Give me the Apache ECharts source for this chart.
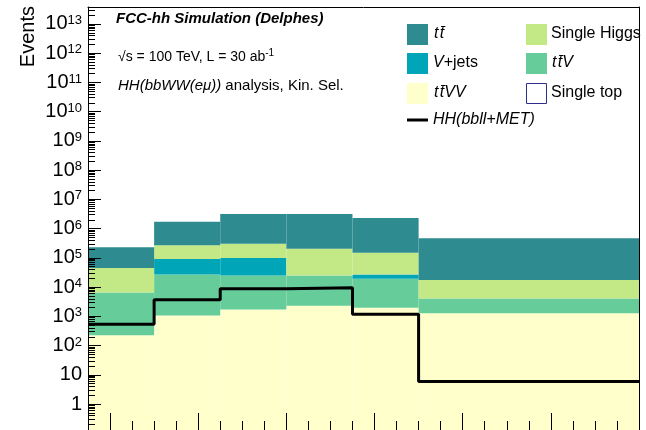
<!DOCTYPE html>
<html>
<head>
<meta charset="utf-8">
<script src="https://cdn.jsdelivr.net/npm/echarts@6/dist/echarts.min.js"></script>
<style>
html,body{margin:0;padding:0;background:#fff;}
#chart{width:646px;height:430px;}
</style>
</head>
<body>
<div id="chart"></div>
<script>
// ---- data ----
const binEdges = [30, 60, 90, 120, 150, 180, 280];
const ttbar       = [188300, 1465500, 2868000, 2966000, 2168000, 454500];
const singleHiggs = [38490, 177500, 203600, 178900, 122000, 13500];
const vJets       = [0, 63770, 73200, 0, 7790, 0];
const ttV         = [6260, 26160, 23470, 22900, 17490, 2773];
const ttVV        = [228, 1069, 1713, 2287, 1955, 1282];
const singleTop   = [0, 0, 0, 0, 0, 0];
const hhSignal    = [541, 3690, 8880, 9600, 1185, 5.97];
const xMajorTicks = [40, 80, 120, 160, 200, 240];
const yDecades    = [1, 10, 1e2, 1e3, 1e4, 1e5, 1e6, 1e7, 1e8, 1e9, 1e10, 1e11, 1e12, 1e13];

// ---- styling ----
const FONT = 'Liberation Sans, Arial, Helvetica, sans-serif';
const Y_MIN = 0.13, Y_MAX = 3.8e13, FLOOR = 1e-3;
const colors = {
  ttVV: '#FFFFCC', ttV: '#66CC99', vJets: '#00A6B8', singleHiggs: '#C2E985', ttbar: '#2E8B8F'
};

// stack order bottom -> top
const stackOrder = [
  ['ttVV', ttVV], ['singleTop', singleTop], ['ttV', ttV], ['vJets', vJets], ['singleHiggs', singleHiggs], ['ttbar', ttbar]
];
const cum = binEdges.slice(0, -1).map(() => 0);
const stackSeries = [];
stackOrder.forEach(([name, vals]) => {
  const data = vals.map((v, i) => {
    const lo = cum[i];
    cum[i] += v;
    return [binEdges[i], binEdges[i + 1], lo > 0 ? lo : FLOOR, cum[i], v];
  });
  if (name === 'singleTop') return;
  const col = colors[name];
  stackSeries.push({
    type: 'custom', name: name, clip: true, z: 2,
    xAxisIndex: 0, yAxisIndex: 0,
    encode: { x: [0, 1], y: [2, 3] },
    renderItem: function (params, api) {
      if (api.value(4) <= 0) return null;
      const p0 = api.coord([api.value(0), api.value(3)]);
      const p1 = api.coord([api.value(1), api.value(2)]);
      return { type: 'rect', shape: { x: p0[0], y: p0[1], width: p1[0] - p0[0], height: p1[1] - p0[1] },
        style: { fill: col } };
    },
    data: data
  });
});

const hhData = hhSignal.map((v, i) => [binEdges[i], v]);
hhData.push([binEdges[binEdges.length - 1], hhSignal[hhSignal.length - 1]]);

const yMinor = [];
for (let e = -1; e <= 13; e++) for (let k = 2; k <= 9; k++) {
  const v = k * Math.pow(10, e);
  if (v > Y_MIN && v < Y_MAX) yMinor.push(v);
}
const xMinor = [];
for (let v = 40; v < 280; v += 10) if (xMajorTicks.indexOf(v) < 0) xMinor.push(v);

const chart = echarts.init(document.getElementById('chart'), null, { renderer: 'canvas' });
const tt = 't\u200At\u0304';
const option = {
  animation: false,
  backgroundColor: '#fff',
  grid: { left: 88, right: 7, top: 7, bottom: -2, show: false },
  xAxis: [
    { type: 'value', min: 30, max: 280, position: 'bottom', z: 10,
      axisLine: { show: true, lineStyle: { color: '#000', width: 1 } },
      axisTick: { show: true, inside: true, length: 17, customValues: xMajorTicks, lineStyle: { color: '#000' } },
      axisLabel: { show: false }, splitLine: { show: false } },
    { type: 'value', min: 30, max: 280, position: 'bottom', z: 10,
      axisLine: { show: false },
      axisTick: { show: true, inside: true, length: 9, customValues: xMinor, lineStyle: { color: '#000' } },
      axisLabel: { show: false }, splitLine: { show: false } },
    { type: 'value', min: 30, max: 280, position: 'top', z: 10,
      axisLine: { show: true, lineStyle: { color: '#000', width: 1 } },
      axisTick: { show: false }, axisLabel: { show: false }, splitLine: { show: false } }
  ],
  yAxis: [
    { type: 'log', logBase: 10, min: Y_MIN, max: Y_MAX, position: 'left', z: 10,
      axisLine: { show: true, lineStyle: { color: '#000', width: 1 } },
      axisTick: { show: true, inside: true, length: 13, customValues: yDecades, lineStyle: { color: '#000' } },
      splitLine: { show: false },
      axisLabel: {
        show: true, margin: 6, customValues: yDecades,
        formatter: function (v) {
          const e = Math.round(Math.log10(v));
          if (e === 0) return '{b|1}';
          if (e === 1) return '{b|10}';
          return '{b|10}{s|' + e + '}';
        },
        rich: {
          b: { fontFamily: FONT, fontSize: 20, color: '#000', lineHeight: 20, verticalAlign: 'bottom' },
          s: { fontFamily: FONT, fontSize: 13, color: '#000', lineHeight: 20, verticalAlign: 'top', padding: [0, 0, 10, 0] }
        }
      } },
    { type: 'log', logBase: 10, min: Y_MIN, max: Y_MAX, position: 'left', z: 10,
      axisLine: { show: false },
      axisTick: { show: true, inside: true, length: 7, customValues: yMinor, lineStyle: { color: '#000' } },
      axisLabel: { show: false }, splitLine: { show: false } },
    { type: 'log', logBase: 10, min: Y_MIN, max: Y_MAX, position: 'right', z: 10,
      axisLine: { show: true, lineStyle: { color: '#000', width: 1 } },
      axisTick: { show: false }, axisLabel: { show: false }, splitLine: { show: false } }
  ],
  series: stackSeries.concat([{
    type: 'line', name: 'HH(bbll+MET)', step: 'end', symbol: 'none', z: 5,
    xAxisIndex: 0, yAxisIndex: 0,
    lineStyle: { color: '#000', width: 3 },
    data: hhData
  }]),
  graphic: [
    { type: 'text', x: 28, y: 6, rotation: Math.PI / 2, z: 20,
      style: { text: 'Events', font: '20px ' + FONT, fill: '#000', align: 'right', verticalAlign: 'middle' } },
    { type: 'text', x: 116, y: 19, z: 20,
      style: { text: 'FCC-hh Simulation (Delphes)', font: 'italic bold 15px ' + FONT, fill: '#000', verticalAlign: 'middle' } },
    { type: 'text', x: 118, y: 57, z: 20,
      style: { text: '\u221As = 100 TeV, L = 30 ab{s|-1}', font: '14px ' + FONT, fill: '#000', verticalAlign: 'middle',
        rich: { s: { fontSize: 10, fontFamily: FONT, padding: [0, 0, 8, 0] } } } },
    { type: 'text', x: 118, y: 86, z: 20,
      style: { text: '{i|HH(bbWW(e\u03BC))}{r| analysis, Kin. Sel.}', fill: '#000', verticalAlign: 'middle',
        rich: { i: { fontFamily: FONT, fontSize: 15, fontStyle: 'italic' }, r: { fontFamily: FONT, fontSize: 15 } } } },
    // legend column 1
    { type: 'rect', shape: { x: 407, y: 24, width: 21, height: 21 }, style: { fill: colors.ttbar }, z: 20 },
    { type: 'text', x: 434, y: 34, z: 20, style: { text: tt, font: 'italic 16px ' + FONT, fill: '#000', verticalAlign: 'middle' } },
    { type: 'rect', shape: { x: 407, y: 53, width: 21, height: 21 }, style: { fill: colors.vJets }, z: 20 },
    { type: 'text', x: 433, y: 63, z: 20, style: { text: '{i|V}{r|+jets}', fill: '#000', verticalAlign: 'middle',
      rich: { i: { fontFamily: FONT, fontSize: 16, fontStyle: 'italic' }, r: { fontFamily: FONT, fontSize: 16 } } } },
    { type: 'rect', shape: { x: 407, y: 83, width: 21, height: 21 }, style: { fill: colors.ttVV }, z: 20 },
    { type: 'text', x: 434, y: 93, z: 20, style: { text: tt + 'VV', font: 'italic 16px ' + FONT, fill: '#000', verticalAlign: 'middle' } },
    { type: 'line', shape: { x1: 407, y1: 120, x2: 428, y2: 120 }, style: { stroke: '#000', lineWidth: 3 }, z: 20 },
    { type: 'text', x: 433, y: 120, z: 20, style: { text: 'HH(bbll+MET)', font: 'italic 16px ' + FONT, fill: '#000', verticalAlign: 'middle' } },
    // legend column 2
    { type: 'rect', shape: { x: 526, y: 24, width: 21, height: 21 }, style: { fill: colors.singleHiggs }, z: 20 },
    { type: 'text', x: 551, y: 34, z: 20, style: { text: 'Single Higgs', font: '16px ' + FONT, fill: '#000', verticalAlign: 'middle' } },
    { type: 'rect', shape: { x: 526, y: 53, width: 21, height: 21 }, style: { fill: colors.ttV }, z: 20 },
    { type: 'text', x: 552, y: 63, z: 20, style: { text: tt + 'V', font: 'italic 16px ' + FONT, fill: '#000', verticalAlign: 'middle' } },
    { type: 'rect', shape: { x: 526.5, y: 83.5, width: 20, height: 20 }, style: { fill: '#fff', stroke: '#2E2E8C', lineWidth: 1 }, z: 20 },
    { type: 'text', x: 551, y: 93, z: 20, style: { text: 'Single top', font: '16px ' + FONT, fill: '#000', verticalAlign: 'middle' } }
  ]
};
chart.setOption(option);
</script>
</body>
</html>
